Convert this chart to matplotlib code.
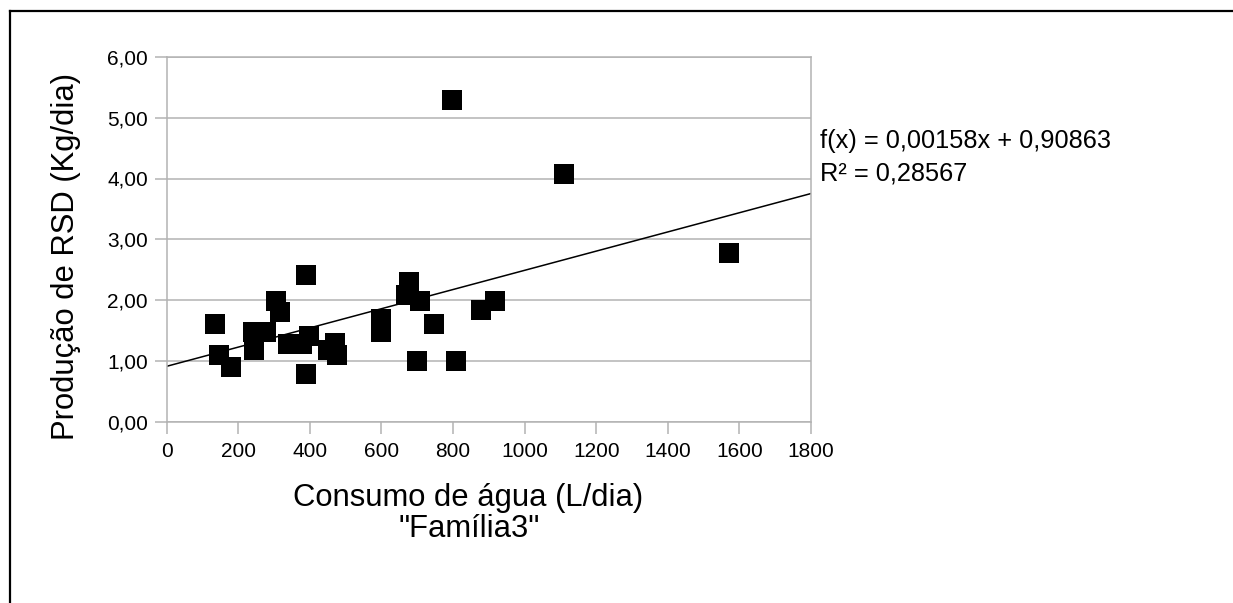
import matplotlib
matplotlib.use("Agg")
import matplotlib.pyplot as plt
from matplotlib.lines import Line2D
from matplotlib.ticker import FuncFormatter, MultipleLocator

plt.rcParams['font.family'] = ['Liberation Sans', 'DejaVu Sans']

# Data
consumo = [136, 147, 180, 240, 245, 278, 306, 317, 340, 378, 388, 388, 397,
           451, 469, 476, 599, 599, 669, 678, 700, 708, 748, 797, 809, 878,
           918, 1110, 1570]
producao = [1.60, 1.09, 0.89, 1.48, 1.18, 1.48, 1.99, 1.80, 1.28, 1.28, 2.41,
            0.79, 1.40, 1.18, 1.29, 1.09, 1.69, 1.48, 2.08, 2.30, 1.00, 1.99,
            1.60, 5.29, 1.00, 1.84, 1.99, 4.08, 2.78]
slope = 0.00158
intercept = 0.90863
r2 = 0.28567
x_range = [0, 1800]
y_range = [0, 6]

W, H, DPI = 1233, 603, 100
fig = plt.figure(figsize=(W / DPI, H / DPI), dpi=DPI)
fig.patch.set_facecolor('white')

ax = fig.add_axes([166.7 / W, 1 - 421.5 / H, (811 - 166.7) / W, (421.5 - 57) / H])
grid_c = '#b3b3b3'

ax.set_xlim(*x_range)
ax.set_ylim(*y_range)
ax.xaxis.set_major_locator(MultipleLocator(200))
ax.yaxis.set_major_locator(MultipleLocator(1))
ax.yaxis.set_major_formatter(FuncFormatter(lambda v, p: f"{v:.2f}".replace('.', ',')))
ax.xaxis.set_major_formatter(FuncFormatter(lambda v, p: f"{int(round(v))}"))
ax.grid(axis='y', color=grid_c, linewidth=1.1)
ax.set_axisbelow(True)
for s in ax.spines.values():
    s.set_color(grid_c)
    s.set_linewidth(1.1)
ax.tick_params(axis='both', direction='out', length=8.6, width=1.1, color=grid_c,
               labelsize=15, labelcolor='black')
ax.tick_params(axis='x', pad=6)
ax.tick_params(axis='y', pad=5)

# Trend line
ax.plot(x_range, [intercept + slope * x for x in x_range], color='black', linewidth=1.1, zorder=2)
# Points
ax.scatter(consumo, producao, marker='s', s=14.4 ** 2, color='black', linewidths=0, zorder=3)

# Labels
fig.text(468 / W, 1 - 498 / H, "Consumo de água (L/dia)", ha='center', va='center', fontsize=22.3)
fig.text(469 / W, 1 - 529 / H, "\"Família3\"", ha='center', va='center', fontsize=22.3)
fig.text(66 / W, 1 - 256.5 / H, "Produção de RSD (Kg/dia)", ha='center', va='center',
         rotation=90, fontsize=22.3)

eq = f"f(x) = {slope:.5f}x + {intercept:.5f}".replace('.', ',')
r2txt = f"R² = {r2:.5f}".replace('.', ',')
fig.text(820 / W, 1 - 148 / H, eq, ha='left', va='baseline', fontsize=18.3)
fig.text(820 / W, 1 - 180 / H, r2txt, ha='left', va='baseline', fontsize=18.3)

# Outer frame (left and top edges visible)
fig.add_artist(Line2D([10 / W, 10 / W], [0, 1 - 11 / H], transform=fig.transFigure,
                      color='black', linewidth=1.6))
fig.add_artist(Line2D([10 / W, 1], [1 - 11 / H, 1 - 11 / H], transform=fig.transFigure,
                      color='black', linewidth=1.6))

fig.savefig("out.png", dpi=DPI)
